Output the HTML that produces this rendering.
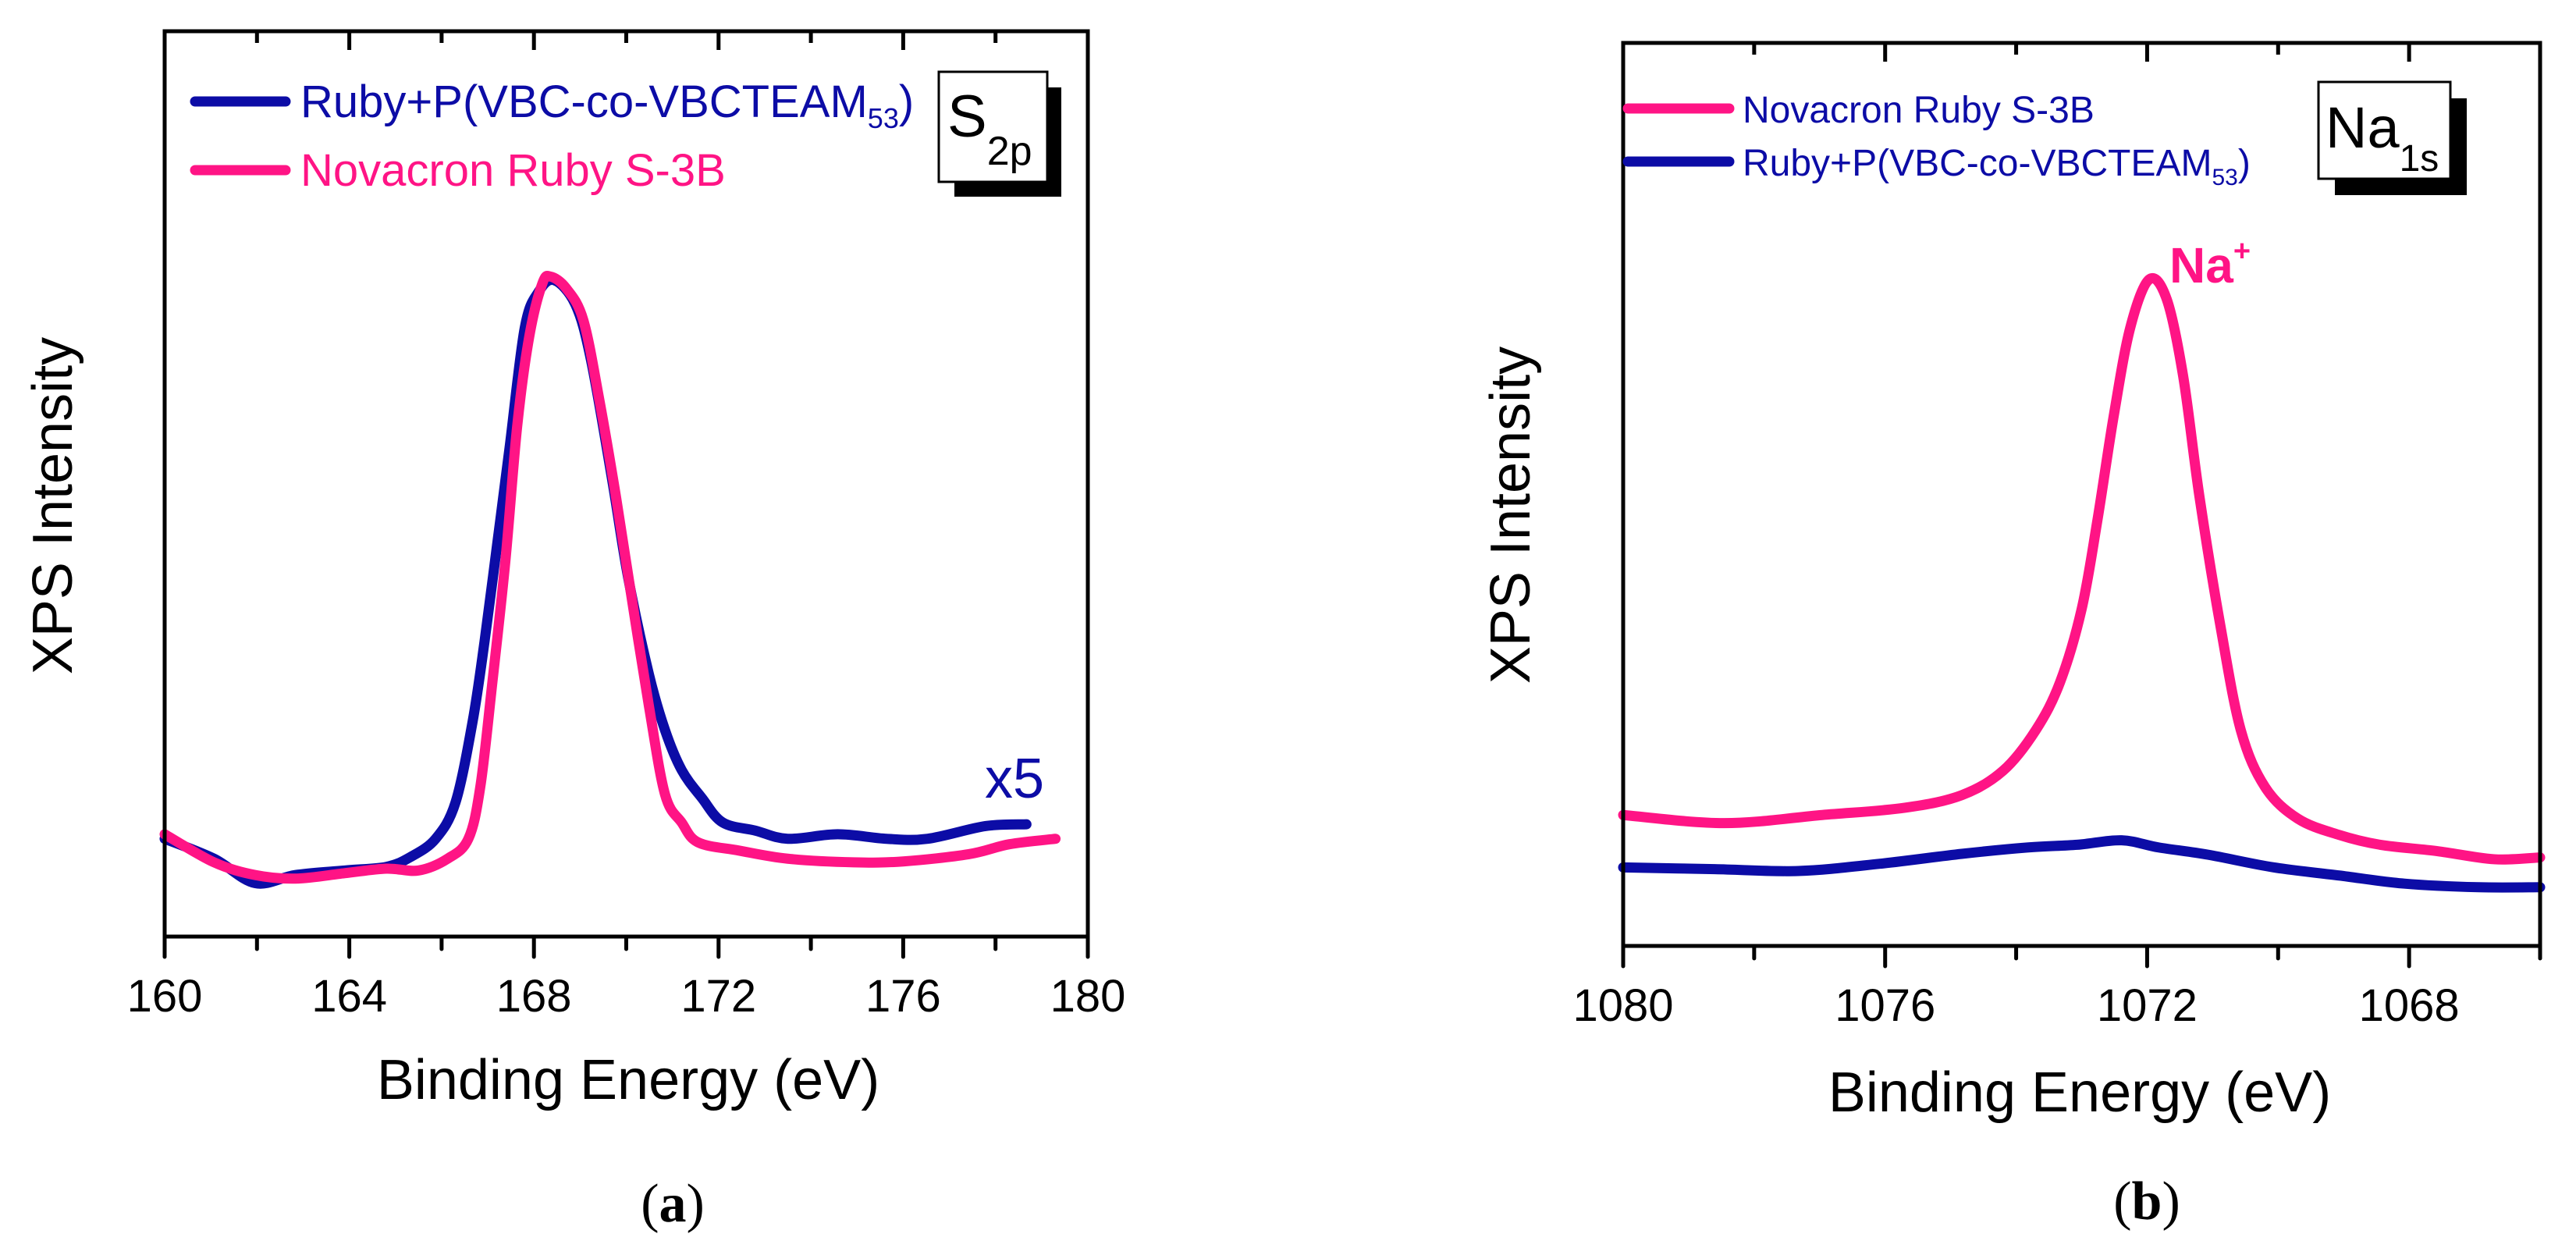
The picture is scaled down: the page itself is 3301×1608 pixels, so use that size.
<!DOCTYPE html>
<html><head><meta charset="utf-8"><style>
html,body{margin:0;padding:0;background:#fff;}
svg{display:block;font-family:"Liberation Sans",sans-serif;}
</style></head><body>
<svg id="fig" width="3301" height="1608" viewBox="0 0 3301 1608" xmlns="http://www.w3.org/2000/svg">
<g id="pa"></g>
<g id="pb"></g>
</svg>
<script>
// Panel (a) S2p data: binding energy (eV) and intensity (% of axis height)
const aBlueX=[160.0,161.07,161.96,162.84,163.9,164.8,165.33,165.87,166.3,166.67,166.93,167.2,167.47,167.8,168.1,168.44,168.9,169.24,169.7,170.04,170.49,170.84,171.2,171.64,172.09,172.8,173.5,174.58,175.64,176.53,177.78,178.67];
const aBlueY=[10.8,8.6,5.9,6.8,7.3,7.7,8.8,10.8,14.8,23.7,32.6,43.2,53.9,67.2,71.2,72.5,69.8,63.6,50.3,39.7,29.0,22.8,18.4,15.3,12.6,11.7,10.8,11.3,10.8,10.8,12.2,12.4];
const aPinkX=[160.0,161.07,161.96,162.84,163.9,164.8,165.5,166.13,166.58,166.84,167.1,167.38,167.64,167.9,168.18,168.36,168.7,169.07,169.42,169.78,170.13,170.49,170.84,171.2,171.56,172.44,173.5,174.93,176.0,177.42,178.3,179.3];
const aPinkY=[11.3,8.2,6.8,6.4,7.0,7.5,7.3,8.6,10.8,16.6,28.1,41.4,56.5,66.3,72.1,72.9,71.6,68.1,59.2,48.5,37.0,25.5,15.7,12.6,10.4,9.5,8.6,8.2,8.3,9.1,10.2,10.8];
const aTicks=[160,164,168,172,176,180];
// Panel (b) Na1s data
const bPinkX=[1080,1078.46,1076.96,1075.7,1074.83,1074.2,1073.7,1073.33,1073.0,1072.76,1072.51,1072.26,1071.97,1071.7,1071.45,1071.2,1070.88,1070.57,1070.2,1069.7,1069.07,1068.44,1067.57,1066.7,1066.0];
const bPinkY=[14.5,13.6,14.5,15.3,16.7,19.4,23.9,29.2,37.3,47.1,58.7,68.4,73.8,71.6,63.1,49.7,35.4,23.9,17.6,14.1,12.3,11.2,10.5,9.6,9.8];
const bBlueX=[1080,1078.6,1077.33,1076.08,1074.83,1073.83,1073.07,1072.39,1071.82,1071.07,1070.07,1069.07,1068.07,1066.94,1066.0];
const bBlueY=[8.7,8.5,8.3,9.1,10.2,10.9,11.2,11.7,10.9,10.1,8.7,7.8,6.9,6.5,6.5];
const bTicks=[1080,1076,1072,1068];

const NS="http://www.w3.org/2000/svg";
const BLUE="#0c0ca6", PINK="#ff1485";
function el(parent,tag,attrs,text){const e=document.createElementNS(NS,tag);for(const k in attrs)e.setAttribute(k,attrs[k]);if(text!==undefined)e.textContent=text;parent.appendChild(e);return e;}
function smoothPath(pts){let d="M"+pts[0][0]+","+pts[0][1];for(let i=0;i<pts.length-1;i++){const p0=pts[Math.max(0,i-1)],p1=pts[i],p2=pts[i+1],p3=pts[Math.min(pts.length-1,i+2)];const c1x=p1[0]+(p2[0]-p0[0])/6,c1y=p1[1]+(p2[1]-p0[1])/6,c2x=p2[0]-(p3[0]-p1[0])/6,c2y=p2[1]-(p3[1]-p1[1])/6;d+=` C${c1x},${c1y} ${c2x},${c2y} ${p2[0]},${p2[1]}`;}return d;}

function panel(g,cfg){
  const sx=v=>cfg.L+(v-cfg.x0)/(cfg.x1-cfg.x0)*(cfg.R-cfg.L);
  const sy=v=>cfg.B-v/100*(cfg.B-cfg.T);
  cfg.series.forEach(s=>{
    const pts=s.x.map((v,i)=>[sx(v),sy(s.y[i])]);
    const p=el(g,"path",{d:smoothPath(pts),fill:"none",stroke:s.c,"stroke-width":13,"stroke-linejoin":"round","stroke-linecap":"round"});
    
    
  });
  const fr=el(g,"rect",{x:cfg.L,y:cfg.T,width:cfg.R-cfg.L,height:cfg.B-cfg.T,fill:"none",stroke:"#000","stroke-width":5});
  
  
  const step=cfg.minor;
  for(let v=cfg.x0;cfg.x0<cfg.x1?v<=cfg.x1+1e-6:v>=cfg.x1-1e-6;v+=step){
    const major=cfg.ticks.some(t=>Math.abs(t-v)<1e-6);
    const x=sx(v);
    const t=el(g,"line",{x1:x,x2:x,y1:cfg.B,y2:cfg.B+(major?26:16),stroke:"#000","stroke-width":5,"stroke-linecap":"round"});
    
    
    const t2=el(g,"line",{x1:x,x2:x,y1:cfg.T,y2:cfg.T+(major?24:15),stroke:"#000","stroke-width":5});
    
    
  }
  cfg.ticks.forEach(v=>{
    const lb=el(g,"text",{x:sx(v),y:cfg.B+96,"font-size":58,"text-anchor":"middle",fill:"#000"},String(v));
    
    
  });
}

const pa=document.getElementById("pa"), pb=document.getElementById("pb");
panel(pa,{L:211,R:1394,T:40,B:1200,x0:160,x1:180,minor:2,ticks:aTicks,series:[
  {x:aBlueX,y:aBlueY,c:BLUE,name:"ruby-p-s2p-line"},
  {x:aPinkX,y:aPinkY,c:PINK,name:"novacron-s2p-line"}]});
panel(pb,{L:2080,R:3255,T:55,B:1212,x0:1080,x1:1066,minor:-2,ticks:bTicks,series:[
  {x:bBlueX,y:bBlueY,c:BLUE,name:"ruby-p-na1s-line"},
  {x:bPinkX,y:bPinkY,c:PINK,name:"novacron-na1s-line"}]});
</script>
<svg style="position:absolute;left:0;top:0" width="3301" height="1608" xmlns="http://www.w3.org/2000/svg" font-family="Liberation Sans, sans-serif">
  <line x1="250" y1="130" x2="366" y2="130" stroke="#0c0ca6" stroke-width="13" stroke-linecap="round"/>
  <text x="385" y="150" font-size="58" fill="#0c0ca6">Ruby+P(VBC-co-VBCTEAM<tspan font-size="36" dy="14">53</tspan><tspan dy="-14">)</tspan></text>
  <line x1="250" y1="218" x2="366" y2="218" stroke="#ff1485" stroke-width="13" stroke-linecap="round"/>
  <text x="385" y="238" font-size="58" fill="#ff1485">Novacron Ruby S-3B</text>
  <g>
    <rect x="1223" y="112" width="137" height="140" fill="#000"/>
    <rect x="1203" y="92" width="139" height="141" fill="#fff" stroke="#000" stroke-width="3"/>
    <text x="1214" y="175" font-size="76" fill="#000">S<tspan font-size="52" dy="36">2p</tspan></text>
  </g>
  <text x="1262" y="1022" font-size="72" fill="#0c0ca6">x5</text>
  <text x="805" y="1408" font-size="72" text-anchor="middle" fill="#000">Binding Energy (eV)</text>
  <text transform="translate(92,648) rotate(-90)" font-size="72" text-anchor="middle" fill="#000">XPS Intensity</text>
  <text x="862" y="1565" font-size="70" text-anchor="middle" font-family="Liberation Serif, serif" fill="#000">(<tspan font-weight="bold">a</tspan>)</text>

  <line x1="2086" y1="139" x2="2216" y2="139" stroke="#ff1485" stroke-width="13" stroke-linecap="round"/>
  <text x="2233" y="157" font-size="48" fill="#0c0ca6">Novacron Ruby S-3B</text>
  <line x1="2086" y1="207" x2="2216" y2="207" stroke="#0c0ca6" stroke-width="13" stroke-linecap="round"/>
  <text x="2233" y="225" font-size="48" fill="#0c0ca6">Ruby+P(VBC-co-VBCTEAM<tspan font-size="30" dy="12">53</tspan><tspan dy="-12">)</tspan></text>
  <g>
    <rect x="2992" y="126" width="169" height="124" fill="#000"/>
    <rect x="2971" y="105" width="169" height="124" fill="#fff" stroke="#000" stroke-width="3"/>
    <text x="2980" y="189" font-size="74" fill="#000">Na<tspan font-size="48" dy="30">1s</tspan></text>
  </g>
  <text x="2780" y="362" font-size="64" font-weight="bold" fill="#ff1485">Na<tspan font-size="38" dy="-28">+</tspan></text>
  <text x="2665" y="1424" font-size="72" text-anchor="middle" fill="#000">Binding Energy (eV)</text>
  <text transform="translate(1960,660) rotate(-90)" font-size="72" text-anchor="middle" fill="#000">XPS Intensity</text>
  <text x="2751" y="1562" font-size="70" text-anchor="middle" font-family="Liberation Serif, serif" fill="#000">(<tspan font-weight="bold">b</tspan>)</text>
</svg>
</body></html>
